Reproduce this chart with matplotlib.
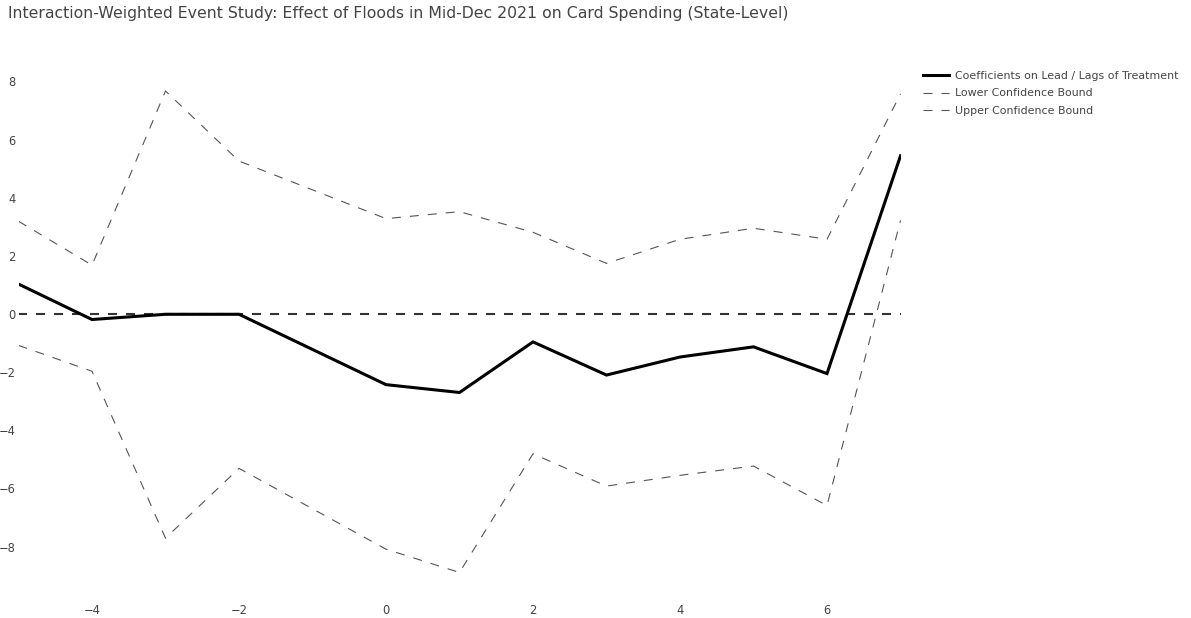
import matplotlib
matplotlib.use("Agg")
import matplotlib.pyplot as plt
from matplotlib.lines import Line2D

plt.rcParams["font.family"] = ["DejaVu Sans"]
plt.rcParams["lines.scale_dashes"] = False

# Event time relative to the flood (period -1 is the omitted reference period)
periods = [-5, -4, -3, -2, 0, 1, 2, 3, 4, 5, 6, 7]
coefficients = [1.03, -0.19, -0.01, -0.01, -2.43, -2.70, -0.96, -2.10, -1.48, -1.13, -2.05, 5.44]
lower_bound = [-1.08, -1.97, -7.71, -5.31, -8.09, -8.89, -4.81, -5.92, -5.55, -5.23, -6.59, 3.22]
upper_bound = [3.19, 1.68, 7.67, 5.26, 3.28, 3.52, 2.81, 1.74, 2.57, 2.95, 2.57, 7.57]

title = ("Interaction-Weighted Event Study: Effect of Floods in Mid-Dec 2021 "
         "on Card Spending (State-Level)")
series_labels = ["Coefficients on Lead / Lags of Treatment",
                 "Lower Confidence Bound",
                 "Upper Confidence Bound"]
x_ticks = [-4, -2, 0, 2, 4, 6]
y_ticks = [-8, -6, -4, -2, 0, 2, 4, 6, 8]

W, H = 1191, 618
fig = plt.figure(figsize=(W / 100, H / 100), dpi=100)
fig.patch.set_facecolor("white")
ax = fig.add_axes([18.5 / W, 1 - 596 / H, (900.5 - 18.5) / W, (596 - 66) / H])
ax.set_facecolor("white")

dash = (0, (6.48, 6.48))
text_color = "#444444"
bound_color = "#555555"

# zero reference line
ax.plot([periods[0], periods[-1]], [0, 0], color="#333333", lw=1.5,
        linestyle=dash, zorder=2)
ax.plot(periods, lower_bound, color=bound_color, lw=0.8, linestyle=dash, zorder=3)
ax.plot(periods, upper_bound, color=bound_color, lw=0.8, linestyle=dash, zorder=3)
ax.plot(periods, coefficients, color="black", lw=2.2, zorder=4,
        solid_joinstyle="miter")

ax.set_xlim(-5, 7)
ax.set_ylim(-9.70, 8.53)
ax.set_xticks(x_ticks)
ax.set_yticks(y_ticks)
ax.tick_params(axis="both", length=0, labelsize=8.3, labelcolor=text_color)
ax.tick_params(axis="x", pad=6)
ax.tick_params(axis="y", pad=2)
for s in ax.spines.values():
    s.set_visible(False)

fig.text(8 / W, 1 - 13.5 / H, title, fontsize=11.3, color=text_color,
         ha="left", va="center")

handles = [
    Line2D([], [], color="black", lw=2.2),
    Line2D([], [], color=bound_color, lw=0.8, linestyle=dash),
    Line2D([], [], color=bound_color, lw=0.8, linestyle=dash),
]
leg = fig.legend(handles, series_labels, loc="upper left",
                 bbox_to_anchor=(923 / W, 1 - 71 / H), frameon=False,
                 fontsize=7.9, handlelength=2.36, handletextpad=0.55,
                 labelspacing=0.67, borderaxespad=0, borderpad=0)
for t in leg.get_texts():
    t.set_color(text_color)

fig.savefig("out.png", dpi=100, facecolor="white")
